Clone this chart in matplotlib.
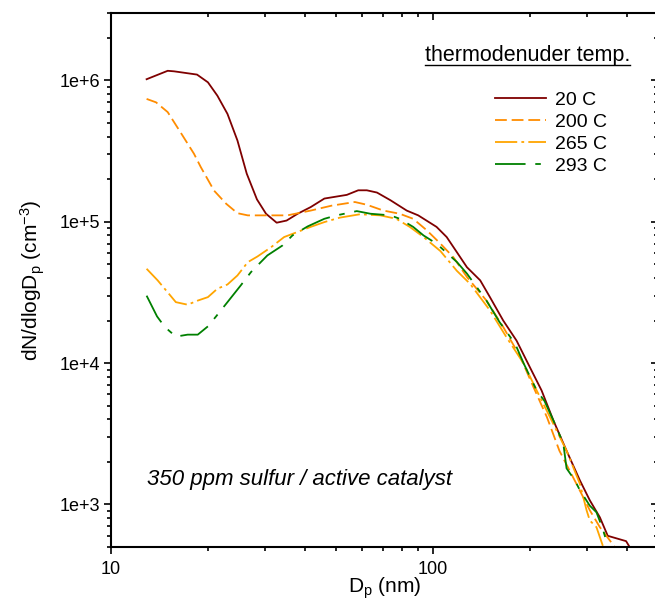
import numpy as np
import matplotlib
matplotlib.use('Agg')
import matplotlib.pyplot as plt
from matplotlib.ticker import LogLocator, FuncFormatter, NullFormatter

plt.rcParams['font.family'] = ['Liberation Sans', 'DejaVu Sans']
plt.rcParams['mathtext.fontset'] = 'custom'
plt.rcParams['mathtext.rm'] = 'Liberation Sans'
plt.rcParams['mathtext.it'] = 'Liberation Sans:italic'
plt.rcParams['lines.scale_dashes'] = False

# size distributions (Dp in nm, dN/dlogDp in cm^-3)
d_20 = [12.9, 15.0, 15.7, 18.5, 20.0, 21.4, 23.0, 24.7, 26.4, 28.4, 30.3, 32.7, 35.1, 38.0,
        41.7, 46.0, 54.0, 58.6, 62.3, 67.0, 73.8, 82.9, 90.0, 102.6, 110.3, 118.6, 127.5,
        140.2, 150.3, 165.3, 181.9, 200, 217.5, 236.6, 260, 286, 307, 330, 349, 398, 406]
n_20 = [1.02e6, 1.17e6, 1.16e6, 1.1e6, 9.7e5, 7.8e5, 5.8e5, 3.76e5, 2.19e5, 1.44e5, 1.14e5,
        9.85e4, 1.02e5, 1.14e5, 1.27e5, 1.46e5, 1.55e5, 1.67e5, 1.67e5, 1.61e5, 1.42e5, 1.2e5,
        1.11e5, 9.2e4, 7.8e4, 6.1e4, 4.77e4, 3.85e4, 2.93e4, 2.0e4, 1.44e4, 9.35e3, 6.4e3,
        3.93e3, 2.4e3, 1.48e3, 1.07e3, 8.1e2, 6.0e2, 5.5e2, 5.1e2]

d_200 = [12.9, 13.8, 15.0, 16.3, 18.1, 19.0, 20.9, 22.8, 24.7, 26.6, 35.3, 41.7, 48.4, 57.2,
         62.3, 70.2, 78.8, 86.8, 95.7, 105.5, 115.8, 127.5, 146.6, 165.3, 187, 205, 226, 247,
         279, 307, 330, 367]
n_200 = [7.4e5, 7.0e5, 5.97e5, 4.43e5, 3.03e5, 2.44e5, 1.66e5, 1.34e5, 1.15e5, 1.11e5, 1.11e5,
         1.2e5, 1.3e5, 1.38e5, 1.32e5, 1.2e5, 1.14e5, 1.05e5, 8.7e4, 7.0e4, 5.6e4, 4.07e4,
         2.77e4, 1.8e4, 1.1e4, 6.8e3, 4.14e3, 2.4e3, 1.4e3, 9.1e2, 6.9e2, 5.0e2]

d_265 = [12.9, 13.96, 15.3, 15.9, 17.3, 18.6, 20.0, 21.4, 23.0, 24.7, 26.6, 28.5, 31.4, 34.5,
         37.6, 41.7, 46.0, 51.4, 59.3, 68.6, 76.9, 84.7, 93.5, 105.5, 118.6, 130.4, 150.3,
         169.3, 191.5, 210, 231, 260, 286, 300, 307, 322, 337]
n_265 = [4.65e4, 3.85e4, 3.0e4, 2.7e4, 2.59e4, 2.77e4, 2.93e4, 3.36e4, 3.6e4, 4.17e4, 5.18e4,
         5.68e4, 6.6e4, 7.8e4, 8.4e4, 9.2e4, 9.95e4, 1.07e5, 1.13e5, 1.11e5, 1.05e5, 9.2e4,
         7.8e4, 6.2e4, 4.5e4, 3.64e4, 2.36e4, 1.52e4, 9.9e3, 6.4e3, 4.14e3, 2.4e3, 1.4e3,
         9.1e2, 7.7e2, 6.9e2, 5.1e2]

d_293 = [12.9, 13.9, 14.7, 15.9, 17.3, 18.6, 20.0, 21.2, 23.0, 25.3, 27.2, 30.6, 34.1, 36.6,
         40.8, 46.0, 50.2, 58.0, 63.9, 73.8, 78.8, 86.8, 93.5, 102.6, 118.6, 127.5, 146.6, 161,
         180, 191.5, 210, 222, 236.6, 254, 260, 276, 286, 307, 322, 337, 349]
n_293 = [3.0e4, 2.14e4, 1.8e4, 1.54e4, 1.59e4, 1.59e4, 1.82e4, 2.14e4, 2.7e4, 3.55e4, 4.4e4,
         5.78e4, 6.8e4, 8.0e4, 9.27e4, 1.05e5, 1.11e5, 1.19e5, 1.14e5, 1.11e5, 1.05e5, 9.2e4,
         8.0e4, 7.0e4, 5.2e4, 4.3e4, 2.77e4, 1.95e4, 1.37e4, 9.9e3, 6.4e3, 5.4e3, 3.93e3,
         2.7e3, 1.8e3, 1.48e3, 1.26e3, 9.8e2, 8.8e2, 6.7e2, 5.1e2]

labels = ['20 C', '200 C', '265 C', '293 C']

fig = plt.figure(figsize=(6.55, 6.03), dpi=100)
ax = fig.add_axes([111/655, 56/603, 547/655, 534/603])

lw = 1.3
ax.plot(d_20, n_20, color='#7f0000', lw=lw, label=labels[0])
ax.plot(d_200, n_200, color='#ff8c00', lw=lw, dashes=(8.5, 3.5), label=labels[1])
ax.plot(d_265, n_265, color='#ffa500', lw=lw, dashes=(16, 3, 2, 3), label=labels[2])
ax.plot(d_293, n_293, color='#008000', lw=lw, dashes=(22, 7, 4, 7), label=labels[3])

ax.set_xscale('log')
ax.set_yscale('log')
ax.set_xlim(10, 500)
ax.set_ylim(500, 3e6)

ax.xaxis.set_major_formatter(FuncFormatter(lambda v, p: '%g' % v))
ax.xaxis.set_minor_formatter(NullFormatter())
ax.yaxis.set_major_locator(LogLocator(base=10, numticks=10))
ax.yaxis.set_major_formatter(FuncFormatter(lambda v, p: '1e+%d' % round(np.log10(v))))
ax.yaxis.set_minor_locator(LogLocator(base=10, subs=np.arange(2, 10), numticks=20))
ax.yaxis.set_minor_formatter(NullFormatter())

for s in ax.spines.values():
    s.set_linewidth(1.5)
ax.tick_params(which='both', labelsize=13, width=1.2, color='black')
ax.tick_params(which='major', length=5)
ax.tick_params(which='minor', length=3)
ax.tick_params(axis='x', which='both', direction='out', top=True, pad=5)
ax.tick_params(axis='y', which='both', direction='out', right=True, pad=3)
# top and right ticks point inward
for t in ax.xaxis.get_major_ticks() + ax.xaxis.get_minor_ticks():
    t.tick2line.set_marker(3)
for t in ax.yaxis.get_major_ticks() + ax.yaxis.get_minor_ticks():
    t.tick2line.set_marker(0)

ax.set_xlabel('D$_\\mathregular{p}$ (nm)', fontsize=15, labelpad=-2)
ax.set_ylabel('dN/dlogD$_\\mathregular{p}$ (cm$^\\mathregular{-3}$)', fontsize=15, labelpad=9)

leg = ax.legend(loc='upper left', bbox_to_anchor=(0.702, 0.853), frameon=False, fontsize=14,
                handlelength=2.6, handletextpad=0.5, labelspacing=0.22, borderpad=0,
                borderaxespad=0)

title = ax.text(0.574, 0.921, 'thermodenuder temp.', transform=ax.transAxes,
                fontsize=15.5, ha='left', va='center')
ax.text(0.066, 0.1255, '350 ppm sulfur / active catalyst', transform=ax.transAxes,
        fontsize=16, style='italic', ha='left', va='center')

# underline the legend title
fig.canvas.draw()
bb = title.get_window_extent().transformed(ax.transAxes.inverted())
ax.plot([bb.x0, bb.x1], [bb.y0 + 0.002, bb.y0 + 0.002], transform=ax.transAxes,
        color='black', lw=1.0, clip_on=False)

fig.savefig('out.png', dpi=100)
